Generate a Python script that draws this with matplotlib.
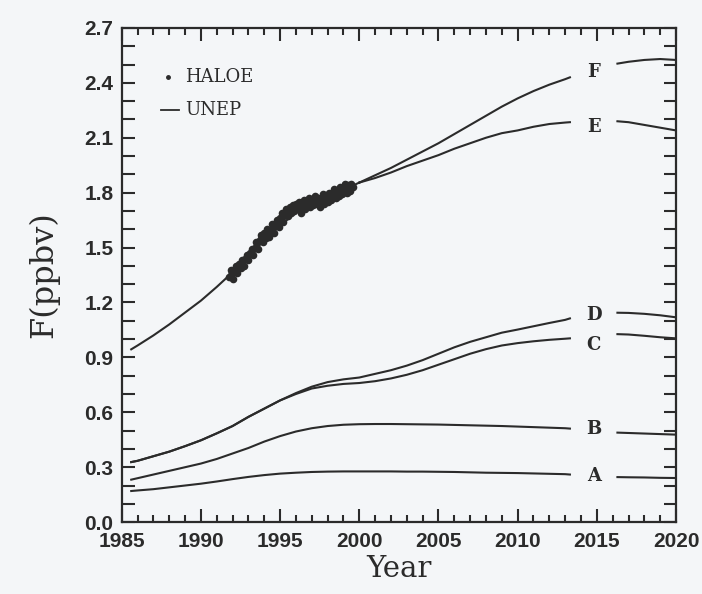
import matplotlib
matplotlib.use("Agg")
import matplotlib.pyplot as plt
from matplotlib.ticker import MultipleLocator, FormatStrFormatter

# UNEP scenario curves, shared part (E and F coincide until ~2000)
years_early = [1985.6, 1986, 1987, 1988, 1989, 1990, 1991, 1992, 1993, 1994,
               1995, 1996, 1997, 1998, 1999, 2000]
ef_early = [0.944, 0.965, 1.02, 1.08, 1.145, 1.21, 1.285, 1.365, 1.45, 1.54,
            1.62, 1.69, 1.745, 1.785, 1.815, 1.855]

years_mid = [2000, 2001, 2002, 2003, 2004, 2005, 2006, 2007, 2008, 2009,
             2010, 2011, 2012, 2013, 2013.3]
f_mid = [1.855, 1.895, 1.935, 1.98, 2.025, 2.07, 2.12, 2.17, 2.22, 2.27,
         2.315, 2.355, 2.39, 2.42, 2.43]
e_mid = [1.855, 1.88, 1.91, 1.945, 1.975, 2.005, 2.04, 2.07, 2.10, 2.125,
         2.14, 2.16, 2.175, 2.183, 2.185]

years_all = [1985.6, 1986, 1987, 1988, 1989, 1990, 1991, 1992, 1993, 1994,
             1995, 1996, 1997, 1998, 1999, 2000, 2001, 2002, 2003, 2004,
             2005, 2006, 2007, 2008, 2009, 2010, 2011, 2012, 2013, 2013.3]
d_vals = [0.328, 0.335, 0.36, 0.385, 0.415, 0.447, 0.485, 0.525, 0.575, 0.62,
          0.665, 0.705, 0.74, 0.765, 0.78, 0.79, 0.81, 0.83, 0.855, 0.885,
          0.92, 0.955, 0.985, 1.01, 1.035, 1.052, 1.07, 1.088, 1.105, 1.113]
c_vals = [0.328, 0.335, 0.36, 0.385, 0.415, 0.447, 0.485, 0.525, 0.575, 0.62,
          0.665, 0.70, 0.73, 0.745, 0.755, 0.76, 0.77, 0.785, 0.805, 0.83,
          0.86, 0.89, 0.92, 0.945, 0.965, 0.978, 0.988, 0.996, 1.002, 1.004]
b_vals = [0.232, 0.24, 0.26, 0.28, 0.30, 0.32, 0.345, 0.375, 0.405, 0.44,
          0.47, 0.495, 0.513, 0.525, 0.532, 0.535, 0.536, 0.536, 0.535, 0.534,
          0.533, 0.531, 0.529, 0.527, 0.525, 0.522, 0.519, 0.516, 0.513, 0.511]
a_vals = [0.17, 0.173, 0.18, 0.19, 0.20, 0.21, 0.222, 0.235, 0.247, 0.257,
          0.265, 0.27, 0.274, 0.276, 0.277, 0.277, 0.277, 0.277, 0.276, 0.276,
          0.275, 0.274, 0.272, 0.27, 0.269, 0.268, 0.266, 0.264, 0.262, 0.26]

# curves after the label gap
years_late = [2016.3, 2017, 2018, 2019, 2020]
f_late = [2.505, 2.515, 2.525, 2.53, 2.525]
e_late = [2.19, 2.185, 2.17, 2.155, 2.14]
d_late = [1.144, 1.143, 1.138, 1.13, 1.119]
c_late = [1.027, 1.025, 1.018, 1.01, 1.004]
b_late = [0.489, 0.487, 0.484, 0.481, 0.478]
a_late = [0.246, 0.245, 0.244, 0.242, 0.241]

labels = ["F", "E", "D", "C", "B", "A"]
label_y = [2.46, 2.16, 1.13, 0.97, 0.507, 0.25]

# HALOE observations
haloe_years = [1991.8, 1991.9, 1992.0, 1992.1, 1992.2, 1992.3, 1992.4, 1992.5,
               1992.6, 1992.7, 1992.8, 1992.9, 1993.0, 1993.1, 1993.2, 1993.3,
               1993.4, 1993.5, 1993.6, 1993.7, 1993.8, 1993.9, 1994.0, 1994.1,
               1994.2, 1994.3, 1994.4, 1994.5, 1994.6, 1994.7, 1994.8, 1994.9,
               1995.0, 1995.1, 1995.2, 1995.3, 1995.4, 1995.5, 1995.6, 1995.7,
               1995.8, 1995.9, 1996.0, 1996.1, 1996.2, 1996.3, 1996.4, 1996.5,
               1996.6, 1996.7, 1996.8, 1996.9, 1997.0, 1997.1, 1997.2, 1997.3,
               1997.4, 1997.5, 1997.6, 1997.7, 1997.8, 1997.9, 1998.0, 1998.1,
               1998.2, 1998.3, 1998.4, 1998.5, 1998.6, 1998.7, 1998.8, 1998.9,
               1999.0, 1999.1, 1999.2, 1999.3, 1999.4, 1999.5, 1999.6]
haloe_vals = [1.34, 1.38, 1.33, 1.37, 1.40, 1.36, 1.41, 1.39,
              1.43, 1.40, 1.44, 1.46, 1.43, 1.47, 1.49, 1.46,
              1.50, 1.53, 1.49, 1.54, 1.57, 1.53, 1.58, 1.55,
              1.60, 1.56, 1.59, 1.63, 1.58, 1.62, 1.65, 1.61,
              1.66, 1.69, 1.64, 1.68, 1.71, 1.67, 1.72, 1.69,
              1.73, 1.70, 1.74, 1.71, 1.75, 1.69, 1.73, 1.76,
              1.71, 1.74, 1.77, 1.72, 1.76, 1.73, 1.78, 1.74,
              1.77, 1.72, 1.76, 1.79, 1.74, 1.78, 1.75, 1.80,
              1.76, 1.79, 1.82, 1.77, 1.81, 1.78, 1.83, 1.79,
              1.82, 1.85, 1.80, 1.84, 1.81, 1.85, 1.83]

ink = "#2b2b2b"
paper = "#f4f6f8"

fig = plt.figure(figsize=(7.02, 5.94), dpi=100, facecolor=paper)
ax = fig.add_axes([0.1734, 0.121, 0.7896, 0.832])
ax.set_facecolor(paper)

lw = 1.5
ax.plot(years_early, ef_early, color=ink, lw=lw)
for mid in (f_mid, e_mid):
    ax.plot(years_mid, mid, color=ink, lw=lw)
for vals in (d_vals, c_vals, b_vals, a_vals):
    ax.plot(years_all, vals, color=ink, lw=lw)
for late in (f_late, e_late, d_late, c_late, b_late, a_late):
    ax.plot(years_late, late, color=ink, lw=lw)

# dense HALOE dots, drawn as a connected noisy trace so they merge into a band
ax.plot(haloe_years, haloe_vals, linestyle="-", lw=2.5, marker="o",
        markersize=5.5, color=ink, markeredgewidth=0)

serif = "DejaVu Serif"
for lab, ly in zip(labels, label_y):
    ax.text(2014.8, ly, lab, ha="center", va="center", fontsize=13,
            fontweight="bold", family=serif, color=ink)

# legend drawn by hand
ax.plot([1987.9], [2.43], marker="o", markersize=2.5, color=ink)
ax.text(1989.0, 2.43, "HALOE", va="center", fontsize=13, family=serif, color=ink)
ax.plot([1987.5, 1988.6], [2.25, 2.25], color=ink, lw=1.3)
ax.text(1989.0, 2.25, "UNEP", va="center", fontsize=13, family=serif, color=ink)

ax.set_xlim(1985, 2020)
ax.set_ylim(0, 2.7)
ax.xaxis.set_major_locator(MultipleLocator(5))
ax.xaxis.set_minor_locator(MultipleLocator(1))
ax.yaxis.set_major_locator(MultipleLocator(0.3))
ax.yaxis.set_minor_locator(MultipleLocator(0.1))
ax.yaxis.set_major_formatter(FormatStrFormatter("%.1f"))

ax.tick_params(which="both", direction="in", top=True, right=True,
               color=ink, width=1.5)
ax.tick_params(axis="x", which="major", length=9.5)
ax.tick_params(axis="x", which="minor", length=5)
ax.tick_params(axis="y", which="both", length=9)
ax.tick_params(which="major", labelsize=15, labelcolor=ink)
ax.tick_params(axis="x", which="major", pad=7)
ax.tick_params(axis="y", which="major", pad=6)
for lab in ax.get_xticklabels() + ax.get_yticklabels():
    lab.set_family("Liberation Sans")
    lab.set_fontweight("bold")
for s in ax.spines.values():
    s.set_linewidth(1.6)
    s.set_color(ink)

ax.set_xlabel("Year", fontsize=21, family=serif, color=ink, labelpad=3)
ax.set_ylabel("F(ppbv)", fontsize=23, family=serif, color=ink, labelpad=18)

fig.savefig("out.png", dpi=100, facecolor=paper)
